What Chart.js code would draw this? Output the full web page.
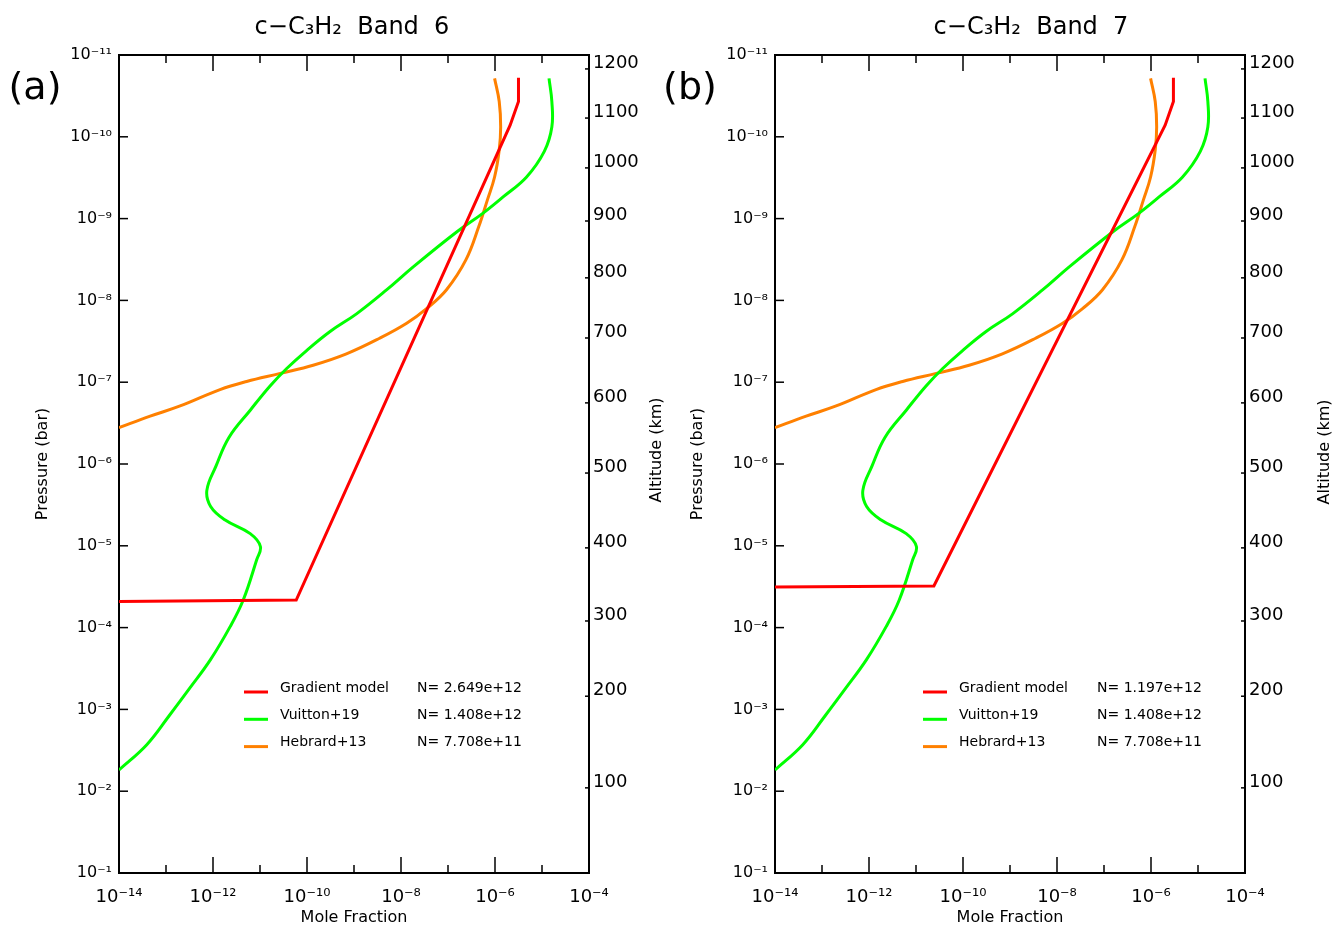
<!DOCTYPE html>
<html>
<head>
<meta charset="utf-8">
<script src="https://cdn.jsdelivr.net/npm/chart.js@4.4.0/dist/chart.umd.min.js"></script>
<style>
body { margin: 0; background: #fff; width: 1338px; height: 927px; overflow: hidden; position: relative; }
canvas { position: absolute; top: 0; }
#chartA { left: 0; }
#chartB { left: 650px; }
</style>
</head>
<body>
<canvas id="chartA" width="669" height="927"></canvas>
<canvas id="chartB" width="688" height="927"></canvas>
<script>
// series names, colours and legend columns
const seriesNames = ['Gradient model', 'Vuitton+19', 'Hebrard+13'];
const seriesColors = ['#ff0000', '#00ff00', '#ff8000'];
const columnA = ['N= 2.649e+12', 'N= 1.408e+12', 'N= 7.708e+11'];
const columnB = ['N= 1.197e+12', 'N= 1.408e+12', 'N= 7.708e+11'];
const titleA = 'c\u2212C\u2083H\u2082  Band  6';
const titleB = 'c\u2212C\u2083H\u2082  Band  7';

// axes
const xTickValues = [1e-14, 1e-13, 1e-12, 1e-11, 1e-10, 1e-9, 1e-8, 1e-7, 1e-6, 1e-5, 1e-4];
const pTickValues = [1e-11, 1e-10, 1e-9, 1e-8, 1e-7, 1e-6, 1e-5, 1e-4, 1e-3, 1e-2, 1e-1];
const altLabels    = ['1200', '1100', '1000', '900', '800', '700', '600', '500', '400', '300', '200', '100'];
const altPressures = [1.48e-11, 5.9e-11, 2.4e-10, 1.07e-9, 5.3e-9, 2.88e-8, 1.79e-7, 1.29e-6, 1.06e-5, 8.3e-5, 6.9e-4, 9.1e-3];

// gradient model, band 6 (mole fraction, pressure in bar)
const gradAX = [3.16e-6, 3.16e-6, 2.1e-6, 5.9e-11, 1e-14];
const gradAP = [1.9e-11, 3.7e-11, 7.2e-11, 4.6e-5, 4.8e-5];

// gradient model, band 7
const gradBX = [3.0e-6, 3.0e-6, 2.0e-6, 2.4e-11, 1e-14];
const gradBP = [1.9e-11, 3.7e-11, 7.2e-11, 3.1e-5, 3.2e-5];

// Vuitton+19
const vuitX = [1.41e-5, 1.62e-5, 1.62e-5, 1.12e-5, 4.7e-6, 1.51e-6, 5.4e-7, 1.55e-7, 1.82e-8, 5.0e-9,
               1.15e-9, 3.1e-10, 9.8e-11, 3.7e-11, 1.62e-11, 6.2e-12, 2.2e-12, 1.15e-12, 7.4e-13, 8.9e-13,
               1.78e-12, 6.2e-12, 1.02e-11, 8.5e-12, 4.4e-12, 2.3e-12, 8.7e-13, 3.2e-13, 1.2e-13, 3.9e-14, 1e-14];
const vuitP = [1.93e-11, 3.7e-11, 7.6e-11, 1.51e-10, 3.1e-10, 5.4e-10, 8.7e-10, 1.45e-9, 3.9e-9, 7.4e-9,
               1.45e-8, 2.4e-8, 4.1e-8, 6.8e-8, 1.12e-7, 2.2e-7, 4.7e-7, 1.07e-6, 2.1e-6, 3.3e-6,
               4.8e-6, 7.1e-6, 1.02e-5, 1.48e-5, 4.6e-5, 9.8e-5, 2.5e-4, 5.5e-4, 1.17e-3, 2.7e-3, 5.5e-3];

// Hebrard+13
const hebX = [9.8e-7, 1.23e-6, 1.32e-6, 1.23e-6, 9.8e-7, 6.9e-7, 4.5e-7, 2.4e-7, 9.3e-8, 3.5e-8,
              1.32e-8, 3.5e-9, 6.9e-10, 1.35e-10, 2.7e-11, 5.2e-12, 1.41e-12, 2.0e-13, 4.6e-14, 1e-14];
const hebP = [1.93e-11, 3.7e-11, 7.6e-11, 1.45e-10, 3.1e-10, 5.9e-10, 1.26e-9, 3.2e-9, 7.4e-9, 1.26e-8,
              1.9e-8, 2.9e-8, 4.5e-8, 6.2e-8, 7.8e-8, 9.8e-8, 1.23e-7, 1.95e-7, 2.6e-7, 3.6e-7];

Chart.defaults.font.family = '"DejaVu Sans", sans-serif';
Chart.defaults.color = '#000';

const supMap = {'-': '\u207B', '0': '\u2070', '1': '\u00B9', '2': '\u00B2', '3': '\u00B3', '4': '\u2074',
                '5': '\u2075', '6': '\u2076', '7': '\u2077', '8': '\u2078', '9': '\u2079'};
function pow10(v) {
    return '10' + String(Math.round(Math.log10(v))).split('').map(c => supMap[c]).join('');
}

// inward ticks, titles, panel letter and the legend box
const decor = {
    id: 'decor',
    afterDraw(chart, args, o) {
        const {ctx, chartArea: a, scales} = chart;
        const seg = (x1, y1, x2, y2) => { ctx.beginPath(); ctx.moveTo(x1, y1); ctx.lineTo(x2, y2); ctx.stroke(); };
        ctx.save();
        ctx.strokeStyle = '#000';
        ctx.lineWidth = 1.5;
        scales.x.ticks.forEach(t => {
            const px = scales.x.getPixelForValue(t.value);
            const len = Math.round(Math.log10(t.value)) % 2 === 0 ? 16 : 8;
            seg(px, a.bottom, px, a.bottom - len);
            seg(px, a.top, px, a.top + len);
        });
        scales.y.ticks.forEach(t => {
            const py = scales.y.getPixelForValue(t.value);
            seg(a.left, py, a.left + 9, py);
        });
        scales.y2.ticks.forEach(t => {
            const py = scales.y2.getPixelForValue(t.value);
            seg(a.right, py, a.right - 4, py);
        });

        ctx.fillStyle = '#000';
        ctx.textAlign = 'center';
        ctx.textBaseline = 'middle';
        ctx.font = '24px "DejaVu Sans"';
        ctx.fillText(o.title, o.titleX, o.titleY);
        ctx.font = '38px "DejaVu Sans"';
        ctx.fillText(o.panel, o.panelX, o.panelY);

        ctx.save();
        ctx.translate(o.altX, o.altY);
        ctx.rotate(-Math.PI / 2);
        ctx.font = '16px "DejaVu Sans"';
        ctx.fillText('Altitude (km)', 0, 0);
        ctx.restore();

        ctx.font = '14px "DejaVu Sans"';
        ctx.textAlign = 'left';
        chart.data.datasets.forEach((ds, i) => {
            const y = o.legY + i * o.legStep;
            ctx.strokeStyle = ds.borderColor;
            ctx.lineWidth = 3;
            seg(o.legX, y, o.legX + 24, y);
            ctx.fillText(ds.label, o.legX + 36, y - 4);
            ctx.fillText(o.nText[i], o.legNX, y - 4);
        });
        ctx.restore();
    }
};

function makeChart(id, gradX, gradP, nText, title, lay) {
    const pts = (xs, ps) => xs.map((x, i) => ({x: x, y: ps[i]}));
    const logAxis = {type: 'logarithmic', grid: {display: false, drawTicks: false},
                     border: {display: true, color: '#000', width: 2}};
    return new Chart(document.getElementById(id), {
        type: 'line',
        data: {
            datasets: [
                {label: seriesNames[0], data: pts(gradX, gradP), borderColor: seriesColors[0], tension: 0},
                {label: seriesNames[1], data: pts(vuitX, vuitP), borderColor: seriesColors[1], tension: 0.4},
                {label: seriesNames[2], data: pts(hebX, hebP), borderColor: seriesColors[2], tension: 0.4}
            ]
        },
        options: {
            responsive: false,
            animation: false,
            devicePixelRatio: 1,
            layout: {padding: 0},
            elements: {point: {radius: 0}, line: {borderWidth: 3, fill: false}},
            plugins: {
                legend: {display: false},
                tooltip: {enabled: false},
                decor: Object.assign({title: title, nText: nText}, lay.decor)
            },
            scales: {
                x: Object.assign({}, logAxis, {
                    position: 'bottom', min: 1e-14, max: 1e-4,
                    afterBuildTicks: s => { s.ticks = xTickValues.map(v => ({value: v})); },
                    afterFit: s => { s.height = lay.bottomH; },
                    ticks: {font: {size: 18}, padding: 14, maxRotation: 0, autoSkip: false,
                            callback: v => Math.round(Math.log10(v)) % 2 === 0 ? pow10(v) : ''},
                    title: {display: true, text: 'Mole Fraction', font: {size: 16}, padding: {top: 0, bottom: 0}}
                }),
                x2: Object.assign({}, logAxis, {
                    position: 'top', min: 1e-14, max: 1e-4,
                    afterBuildTicks: s => { s.ticks = xTickValues.map(v => ({value: v})); },
                    afterFit: s => { s.height = lay.topH; },
                    ticks: {display: false}
                }),
                y: Object.assign({}, logAxis, {
                    position: 'left', reverse: true, min: 1e-11, max: 1e-1,
                    afterBuildTicks: s => { s.ticks = pTickValues.map(v => ({value: v})); },
                    afterFit: s => { s.width = lay.leftW; },
                    ticks: {font: {size: 16}, padding: 7, autoSkip: false, callback: v => pow10(v)},
                    title: {display: true, text: 'Pressure (bar)', font: {size: 16}, padding: {top: lay.presPad, bottom: 0}}
                }),
                y2: Object.assign({}, logAxis, {
                    position: 'right', reverse: true, min: 1e-11, max: 1e-1,
                    afterBuildTicks: s => { s.ticks = altPressures.map(v => ({value: v})); },
                    afterFit: s => { s.width = lay.rightW; },
                    ticks: {font: {size: 18}, padding: 4, labelOffset: -6, autoSkip: false,
                            callback: (v, i) => altLabels[i]}
                })
            }
        },
        plugins: [decor]
    });
}

makeChart('chartA', gradAX, gradAP, columnA, titleA, {
    bottomH: 54, topH: 55, leftW: 119, rightW: 80, presPad: 33,
    decor: {titleX: 352, titleY: 28, panel: '(a)', panelX: 35, panelY: 89, altX: 657, altY: 450,
            legX: 244, legNX: 417, legY: 692, legStep: 27.3}
});
makeChart('chartB', gradBX, gradBP, columnB, titleB, {
    bottomH: 54, topH: 55, leftW: 125, rightW: 93, presPad: 38,
    decor: {titleX: 381, titleY: 28, panel: '(b)', panelX: 40, panelY: 89, altX: 675, altY: 452,
            legX: 273, legNX: 447, legY: 692, legStep: 27.3}
});
</script>
</body>
</html>
